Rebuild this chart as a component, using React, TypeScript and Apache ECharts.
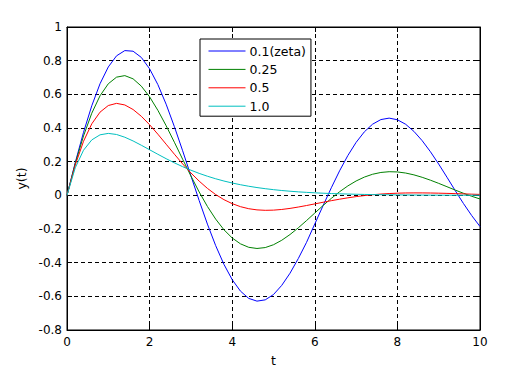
import React, { useEffect, useRef } from "react";
import * as echarts from "echarts";

const tValues = [
  0, 0.2, 0.4, 0.6, 0.8, 1.0, 1.2, 1.4, 1.6, 1.8, 2.0, 2.2, 2.4, 2.6, 2.8, 3.0, 3.2, 3.4, 3.6, 3.8,
  4.0, 4.2, 4.4, 4.6, 4.8, 5.0, 5.2, 5.4, 5.6, 5.8, 6.0, 6.2, 6.4, 6.6, 6.8, 7.0, 7.2, 7.4, 7.6, 7.8,
  8.0, 8.2, 8.4, 8.6, 8.8, 9.0, 9.2, 9.4, 9.6, 9.8, 10.0,
];

const zeta01 = [
  0, 0.1948, 0.3743, 0.5321, 0.663, 0.7627, 0.8288, 0.8599, 0.8562, 0.8192, 0.7516, 0.6578, 0.5415,
  0.4079, 0.2649, 0.1162, -0.031, -0.171, -0.2988, -0.4101, -0.501, -0.5691, -0.6123, -0.6285,
  -0.6209, -0.5893, -0.5348, -0.4625, -0.3758, -0.2793, -0.1699, -0.0616, 0.0449, 0.1455, 0.2364,
  0.3145, 0.3773, 0.4228, 0.4501, 0.4587, 0.449, 0.4221, 0.3799, 0.3247, 0.259, 0.1856, 0.1076,
  0.0281, -0.0488, -0.1205, -0.1853,
];

const zeta025 = [
  0, 0.1891, 0.3529, 0.4878, 0.5915, 0.6628, 0.7021, 0.7112, 0.6921, 0.6486, 0.5851, 0.505, 0.4139,
  0.3153, 0.2146, 0.1153, 0.02, -0.0661, -0.1413, -0.2045, -0.2534, -0.2881, -0.3087, -0.3157,
  -0.3103, -0.2934, -0.2669, -0.2328, -0.1932, -0.1499, -0.1051, -0.0606, -0.018, 0.0212, 0.0559,
  0.0852, 0.1084, 0.1253, 0.1359, 0.1403, 0.1389, 0.1324, 0.1216, 0.1071, 0.0899, 0.0711, 0.0512,
  0.0313, 0.0121, -0.0057, -0.0216,
];

const zeta05 = [
  0, 0.18, 0.3209, 0.4248, 0.4943, 0.5335, 0.5463, 0.5369, 0.5099, 0.4695, 0.4194, 0.3632, 0.3039,
  0.2444, 0.187, 0.133, 0.0845, 0.0413, 0.0046, -0.0257, -0.0493, -0.0673, -0.0795, -0.0864,
  -0.089, -0.0879, -0.0839, -0.0776, -0.0695, -0.0605, -0.0509, -0.0411, -0.0318, -0.0229, -0.0148,
  -0.0076, -0.0015, 0.0036, 0.0076, 0.0106, 0.0127, 0.014, 0.0145, 0.0144, 0.0138, 0.0128, 0.0116,
  0.0101, 0.0085, 0.0069, 0.0054,
];

const zeta10 = [
  0, 0.1637, 0.2681, 0.3293, 0.3595, 0.3679, 0.3614, 0.3452, 0.323, 0.2975, 0.2707, 0.2438, 0.2177,
  0.1931, 0.1703, 0.1494, 0.1304, 0.1135, 0.0984, 0.085, 0.0733, 0.063, 0.054, 0.0462, 0.0395,
  0.0337, 0.0287, 0.0244, 0.0207, 0.0176, 0.0149, 0.0126, 0.0106, 0.009, 0.0076, 0.0064, 0.0054,
  0.0045, 0.0038, 0.0032, 0.0027, 0.0023, 0.0019, 0.0016, 0.0013, 0.0011, 0.0009, 0.0008, 0.0006,
  0.0005, 0.0005,
];

const seriesNames = ["0.1(zeta)", "0.25", "0.5", "1.0"];
const seriesColors = ["#0000ff", "#008000", "#ff0000", "#00bfbf"];
const seriesValues = [zeta01, zeta025, zeta05, zeta10];

const FONT = "DejaVu Sans";

export default function App() {
  const ref = useRef<HTMLDivElement>(null);
  useEffect(() => {
    if (!ref.current) return;
    const chart = echarts.init(ref.current, null, { renderer: "svg" });
    const gridLine = { show: true, lineStyle: { color: "#000", type: [4, 3] as any, width: 1 } };
    const tick = { show: true, inside: true, length: 5, lineStyle: { color: "#000" } };
    const axisLine = { show: true, onZero: false, lineStyle: { color: "#000" } };
    chart.setOption({
      animation: false,
      backgroundColor: "#fff",
      textStyle: { fontFamily: FONT },
      grid: {
        left: 67,
        right: 49,
        top: 27,
        bottom: 39,
        show: true,
        borderColor: "#000",
        borderWidth: 1,
        backgroundColor: "#fff",
      },
      legend: {
        data: seriesNames,
        orient: "vertical",
        left: 200,
        top: 39,
        padding: [5, 5, 3, 8],
        itemWidth: 37,
        itemHeight: 14,
        itemGap: 4.4,
        backgroundColor: "#fff",
        borderColor: "#000",
        borderWidth: 1,
        borderRadius: 0,
        itemStyle: { opacity: 0 },
        lineStyle: { width: 1 },
        textStyle: {
          fontFamily: FONT,
          fontSize: 12.5,
          lineHeight: 14,
          color: "#000",
          padding: [0, 0, 0, -1],
        },
      },
      xAxis: [
        {
          type: "value",
          min: 0,
          max: 10,
          interval: 2,
          position: "bottom",
          name: "t",
          nameLocation: "middle",
          nameGap: 24,
          nameTextStyle: { fontFamily: FONT, fontSize: 12.5, color: "#000" },
          axisLine,
          axisTick: tick,
          axisLabel: { color: "#000", fontFamily: FONT, fontSize: 12, margin: 6 },
          splitLine: gridLine,
        },
        {
          type: "value",
          min: 0,
          max: 10,
          interval: 2,
          position: "top",
          axisLine,
          axisTick: tick,
          axisLabel: { show: false },
          splitLine: { show: false },
        },
      ],
      yAxis: [
        {
          type: "value",
          min: -0.8,
          max: 1,
          interval: 0.2,
          position: "left",
          name: "y(t)",
          nameLocation: "middle",
          nameGap: 31,
          nameTextStyle: { fontFamily: FONT, fontSize: 12.5, color: "#000" },
          axisLine,
          axisTick: tick,
          axisLabel: {
            color: "#000",
            fontFamily: FONT,
            fontSize: 12,
            margin: 5,
            formatter: (v: number) => String(+v.toFixed(1)),
          },
          splitLine: gridLine,
        },
        {
          type: "value",
          min: -0.8,
          max: 1,
          interval: 0.2,
          position: "right",
          axisLine,
          axisTick: tick,
          axisLabel: { show: false },
          splitLine: { show: false },
        },
      ],
      series: seriesValues.map((vals, i) => ({
        name: seriesNames[i],
        type: "line",
        xAxisIndex: 0,
        yAxisIndex: 0,
        symbol: "none",
        showSymbol: false,
        smooth: false,
        color: seriesColors[i],
        lineStyle: { color: seriesColors[i], width: 1 },
        data: tValues.map((t, j) => [t, vals[j]]),
      })),
    });
    return () => chart.dispose();
  }, []);
  return (
    <div
      ref={ref}
      style={{ position: "absolute", left: 0, top: 0, width: 529, height: 372, background: "#fff" }}
    />
  );
}
